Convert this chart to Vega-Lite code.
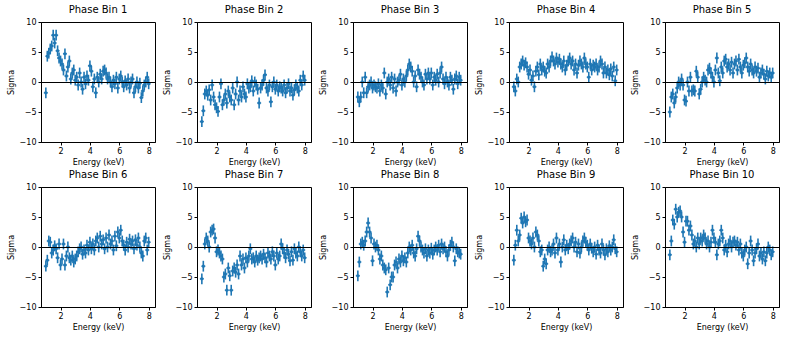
{
"$schema": "https://vega.github.io/schema/vega-lite/v6.json",
"background": "white",
"padding": {"left": 6, "top": 4, "right": 5, "bottom": 5},
"config": {"font": "DejaVu Sans", "view": {"stroke": "black", "strokeWidth": 1}, "axis": {"labelOverlap": false, "labelBound": false, "labelFlush": false, "grid": false}},
"data": {"values": [
{"p":1,"e":1.0,"s":-1.8,"u":0.9},{"p":1,"e":1.1,"s":4.3,"u":0.9},{"p":1,"e":1.2,"s":4.8,"u":0.9},{"p":1,"e":1.3,"s":5.5,"u":0.9},{"p":1,"e":1.4,"s":6.0,"u":0.9},{"p":1,"e":1.5,"s":7.8,"u":0.9},{"p":1,"e":1.6,"s":6.5,"u":0.9},{"p":1,"e":1.7,"s":7.8,"u":0.9},{"p":1,"e":1.8,"s":5.2,"u":0.9},{"p":1,"e":1.9,"s":4.0,"u":0.9},
{"p":1,"e":2.0,"s":3.5,"u":0.9},{"p":1,"e":2.1,"s":3.0,"u":0.9},{"p":1,"e":2.2,"s":2.0,"u":0.9},{"p":1,"e":2.3,"s":4.7,"u":0.9},{"p":1,"e":2.4,"s":1.0,"u":0.9},{"p":1,"e":2.5,"s":2.5,"u":0.9},{"p":1,"e":2.6,"s":3.5,"u":0.9},{"p":1,"e":2.7,"s":0.5,"u":0.9},{"p":1,"e":2.8,"s":1.5,"u":0.9},{"p":1,"e":2.9,"s":2.0,"u":0.9},
{"p":1,"e":3.0,"s":0.3,"u":0.9},{"p":1,"e":3.1,"s":0.8,"u":0.9},{"p":1,"e":3.2,"s":-0.5,"u":0.9},{"p":1,"e":3.3,"s":1.5,"u":0.9},{"p":1,"e":3.4,"s":0.0,"u":0.9},{"p":1,"e":3.5,"s":-1.2,"u":0.9},{"p":1,"e":3.6,"s":0.8,"u":0.9},{"p":1,"e":3.7,"s":-0.3,"u":0.9},{"p":1,"e":3.8,"s":1.0,"u":0.9},{"p":1,"e":3.9,"s":0.3,"u":0.9},
{"p":1,"e":4.0,"s":2.7,"u":0.9},{"p":1,"e":4.1,"s":1.8,"u":0.9},{"p":1,"e":4.2,"s":-0.8,"u":0.9},{"p":1,"e":4.3,"s":0.5,"u":0.9},{"p":1,"e":4.4,"s":-1.8,"u":0.9},{"p":1,"e":4.5,"s":0.8,"u":0.9},{"p":1,"e":4.6,"s":0.0,"u":0.9},{"p":1,"e":4.7,"s":1.3,"u":0.9},{"p":1,"e":4.8,"s":0.5,"u":0.9},{"p":1,"e":4.9,"s":1.8,"u":0.9},
{"p":1,"e":5.0,"s":2.0,"u":0.9},{"p":1,"e":5.1,"s":1.5,"u":0.9},{"p":1,"e":5.2,"s":0.5,"u":0.9},{"p":1,"e":5.3,"s":0.8,"u":0.9},{"p":1,"e":5.4,"s":0.0,"u":0.9},{"p":1,"e":5.5,"s":-0.8,"u":0.9},{"p":1,"e":5.6,"s":0.3,"u":0.9},{"p":1,"e":5.7,"s":-0.3,"u":0.9},{"p":1,"e":5.8,"s":0.8,"u":0.9},{"p":1,"e":5.9,"s":-1.0,"u":0.9},
{"p":1,"e":6.0,"s":0.5,"u":0.9},{"p":1,"e":6.1,"s":1.0,"u":0.9},{"p":1,"e":6.2,"s":0.0,"u":0.9},{"p":1,"e":6.3,"s":-0.8,"u":0.9},{"p":1,"e":6.4,"s":0.2,"u":0.9},{"p":1,"e":6.5,"s":-0.5,"u":0.9},{"p":1,"e":6.6,"s":0.5,"u":0.9},{"p":1,"e":6.7,"s":-1.0,"u":0.9},{"p":1,"e":6.8,"s":0.0,"u":0.9},{"p":1,"e":6.9,"s":0.5,"u":0.9},
{"p":1,"e":7.0,"s":-1.8,"u":0.9},{"p":1,"e":7.1,"s":-0.8,"u":0.9},{"p":1,"e":7.2,"s":0.0,"u":0.9},{"p":1,"e":7.3,"s":-1.0,"u":0.9},{"p":1,"e":7.4,"s":-0.2,"u":0.9},{"p":1,"e":7.5,"s":-2.6,"u":0.9},{"p":1,"e":7.6,"s":-1.5,"u":0.9},{"p":1,"e":7.7,"s":-0.5,"u":0.9},{"p":1,"e":7.8,"s":0.0,"u":0.9},{"p":1,"e":7.9,"s":0.8,"u":0.9},{"p":1,"e":8.0,"s":-0.3,"u":0.9},
{"p":2,"e":1.0,"s":-6.6,"u":0.9},{"p":2,"e":1.1,"s":-4.8,"u":0.9},{"p":2,"e":1.2,"s":-2.0,"u":0.9},{"p":2,"e":1.3,"s":-1.5,"u":0.9},{"p":2,"e":1.4,"s":-2.2,"u":0.9},{"p":2,"e":1.5,"s":-1.3,"u":0.9},{"p":2,"e":1.6,"s":-3.0,"u":0.9},{"p":2,"e":1.7,"s":-0.5,"u":0.9},{"p":2,"e":1.8,"s":-2.5,"u":0.9},{"p":2,"e":1.9,"s":-3.8,"u":0.9},
{"p":2,"e":2.0,"s":-4.3,"u":0.9},{"p":2,"e":2.1,"s":-4.9,"u":0.9},{"p":2,"e":2.2,"s":-2.5,"u":0.9},{"p":2,"e":2.3,"s":-0.3,"u":0.9},{"p":2,"e":2.4,"s":-3.8,"u":0.9},{"p":2,"e":2.5,"s":-3.0,"u":0.9},{"p":2,"e":2.6,"s":-2.0,"u":0.9},{"p":2,"e":2.7,"s":-3.5,"u":0.9},{"p":2,"e":2.8,"s":-1.5,"u":0.9},{"p":2,"e":2.9,"s":-2.5,"u":0.9},
{"p":2,"e":3.0,"s":-3.0,"u":0.9},{"p":2,"e":3.1,"s":-1.0,"u":0.9},{"p":2,"e":3.2,"s":-3.8,"u":0.9},{"p":2,"e":3.3,"s":-2.0,"u":0.9},{"p":2,"e":3.4,"s":0.0,"u":0.9},{"p":2,"e":3.5,"s":-3.0,"u":0.9},{"p":2,"e":3.6,"s":-1.5,"u":0.9},{"p":2,"e":3.7,"s":-2.5,"u":0.9},{"p":2,"e":3.8,"s":-0.8,"u":0.9},{"p":2,"e":3.9,"s":-2.0,"u":0.9},
{"p":2,"e":4.0,"s":-2.5,"u":0.9},{"p":2,"e":4.1,"s":-0.3,"u":0.9},{"p":2,"e":4.2,"s":-1.0,"u":0.9},{"p":2,"e":4.3,"s":-0.8,"u":0.9},{"p":2,"e":4.4,"s":0.2,"u":0.9},{"p":2,"e":4.5,"s":-1.5,"u":0.9},{"p":2,"e":4.6,"s":0.0,"u":0.9},{"p":2,"e":4.7,"s":-0.5,"u":0.9},{"p":2,"e":4.8,"s":-1.2,"u":0.9},{"p":2,"e":4.9,"s":-3.5,"u":0.9},
{"p":2,"e":5.0,"s":-1.0,"u":0.9},{"p":2,"e":5.1,"s":-0.5,"u":0.9},{"p":2,"e":5.2,"s":0.3,"u":0.9},{"p":2,"e":5.3,"s":1.2,"u":0.9},{"p":2,"e":5.4,"s":-1.0,"u":0.9},{"p":2,"e":5.5,"s":-1.5,"u":0.9},{"p":2,"e":5.6,"s":-0.5,"u":0.9},{"p":2,"e":5.7,"s":-3.3,"u":0.9},{"p":2,"e":5.8,"s":-0.8,"u":0.9},{"p":2,"e":5.9,"s":0.0,"u":0.9},
{"p":2,"e":6.0,"s":-1.2,"u":0.9},{"p":2,"e":6.1,"s":-0.5,"u":0.9},{"p":2,"e":6.2,"s":-1.5,"u":0.9},{"p":2,"e":6.3,"s":-0.8,"u":0.9},{"p":2,"e":6.4,"s":-1.0,"u":0.9},{"p":2,"e":6.5,"s":-1.5,"u":0.9},{"p":2,"e":6.6,"s":-0.5,"u":0.9},{"p":2,"e":6.7,"s":-1.8,"u":0.9},{"p":2,"e":6.8,"s":-1.0,"u":0.9},{"p":2,"e":6.9,"s":-0.3,"u":0.9},
{"p":2,"e":7.0,"s":-1.5,"u":0.9},{"p":2,"e":7.1,"s":-1.0,"u":0.9},{"p":2,"e":7.2,"s":-2.2,"u":0.9},{"p":2,"e":7.3,"s":-1.3,"u":0.9},{"p":2,"e":7.4,"s":-0.5,"u":0.9},{"p":2,"e":7.5,"s":-1.0,"u":0.9},{"p":2,"e":7.6,"s":-1.5,"u":0.9},{"p":2,"e":7.7,"s":0.3,"u":0.9},{"p":2,"e":7.8,"s":-0.5,"u":0.9},{"p":2,"e":7.9,"s":1.0,"u":0.9},{"p":2,"e":8.0,"s":0.3,"u":0.9},
{"p":3,"e":1.0,"s":-2.5,"u":0.9},{"p":3,"e":1.1,"s":-3.3,"u":0.9},{"p":3,"e":1.2,"s":-2.5,"u":0.9},{"p":3,"e":1.3,"s":0.0,"u":0.9},{"p":3,"e":1.4,"s":-1.8,"u":0.9},{"p":3,"e":1.5,"s":0.8,"u":0.9},{"p":3,"e":1.6,"s":-1.8,"u":0.9},{"p":3,"e":1.7,"s":-0.8,"u":0.9},{"p":3,"e":1.8,"s":-0.5,"u":0.9},{"p":3,"e":1.9,"s":0.0,"u":0.9},
{"p":3,"e":2.0,"s":-1.0,"u":0.9},{"p":3,"e":2.1,"s":-0.5,"u":0.9},{"p":3,"e":2.2,"s":-0.8,"u":0.9},{"p":3,"e":2.3,"s":-1.0,"u":0.9},{"p":3,"e":2.4,"s":-0.3,"u":0.9},{"p":3,"e":2.5,"s":-1.5,"u":0.9},{"p":3,"e":2.6,"s":-0.5,"u":0.9},{"p":3,"e":2.7,"s":-1.0,"u":0.9},{"p":3,"e":2.8,"s":1.5,"u":0.9},{"p":3,"e":2.9,"s":-2.0,"u":0.9},
{"p":3,"e":3.0,"s":0.0,"u":0.9},{"p":3,"e":3.1,"s":0.5,"u":0.9},{"p":3,"e":3.2,"s":-0.5,"u":0.9},{"p":3,"e":3.3,"s":0.8,"u":0.9},{"p":3,"e":3.4,"s":-1.0,"u":0.9},{"p":3,"e":3.5,"s":0.5,"u":0.9},{"p":3,"e":3.6,"s":-1.5,"u":0.9},{"p":3,"e":3.7,"s":0.0,"u":0.9},{"p":3,"e":3.8,"s":0.3,"u":0.9},{"p":3,"e":3.9,"s":1.3,"u":0.9},
{"p":3,"e":4.0,"s":-0.5,"u":0.9},{"p":3,"e":4.1,"s":0.5,"u":0.9},{"p":3,"e":4.2,"s":0.0,"u":0.9},{"p":3,"e":4.3,"s":1.0,"u":0.9},{"p":3,"e":4.4,"s":2.0,"u":0.9},{"p":3,"e":4.5,"s":3.0,"u":0.9},{"p":3,"e":4.6,"s":2.5,"u":0.9},{"p":3,"e":4.7,"s":1.8,"u":0.9},{"p":3,"e":4.8,"s":0.0,"u":0.9},{"p":3,"e":4.9,"s":1.0,"u":0.9},
{"p":3,"e":5.0,"s":-0.8,"u":0.9},{"p":3,"e":5.1,"s":2.0,"u":0.9},{"p":3,"e":5.2,"s":1.3,"u":0.9},{"p":3,"e":5.3,"s":0.8,"u":0.9},{"p":3,"e":5.4,"s":0.0,"u":0.9},{"p":3,"e":5.5,"s":-0.5,"u":0.9},{"p":3,"e":5.6,"s":1.3,"u":0.9},{"p":3,"e":5.7,"s":0.5,"u":0.9},{"p":3,"e":5.8,"s":1.5,"u":0.9},{"p":3,"e":5.9,"s":0.5,"u":0.9},
{"p":3,"e":6.0,"s":1.5,"u":0.9},{"p":3,"e":6.1,"s":-0.5,"u":0.9},{"p":3,"e":6.2,"s":0.8,"u":0.9},{"p":3,"e":6.3,"s":0.3,"u":0.9},{"p":3,"e":6.4,"s":1.3,"u":0.9},{"p":3,"e":6.5,"s":0.0,"u":0.9},{"p":3,"e":6.6,"s":1.5,"u":0.9},{"p":3,"e":6.7,"s":2.5,"u":0.9},{"p":3,"e":6.8,"s":0.5,"u":0.9},{"p":3,"e":6.9,"s":-0.3,"u":0.9},
{"p":3,"e":7.0,"s":0.8,"u":0.9},{"p":3,"e":7.1,"s":0.0,"u":0.9},{"p":3,"e":7.2,"s":-0.5,"u":0.9},{"p":3,"e":7.3,"s":0.8,"u":0.9},{"p":3,"e":7.4,"s":0.3,"u":0.9},{"p":3,"e":7.5,"s":-1.2,"u":0.9},{"p":3,"e":7.6,"s":0.5,"u":0.9},{"p":3,"e":7.7,"s":1.0,"u":0.9},{"p":3,"e":7.8,"s":-0.3,"u":0.9},{"p":3,"e":7.9,"s":0.8,"u":0.9},{"p":3,"e":8.0,"s":0.3,"u":0.9},
{"p":4,"e":1.0,"s":-0.8,"u":0.9},{"p":4,"e":1.1,"s":-1.5,"u":0.9},{"p":4,"e":1.2,"s":0.5,"u":0.9},{"p":4,"e":1.3,"s":0.0,"u":0.9},{"p":4,"e":1.4,"s":2.5,"u":0.9},{"p":4,"e":1.5,"s":3.0,"u":0.9},{"p":4,"e":1.6,"s":3.5,"u":0.9},{"p":4,"e":1.7,"s":2.8,"u":0.9},{"p":4,"e":1.8,"s":3.2,"u":0.9},{"p":4,"e":1.9,"s":2.5,"u":0.9},
{"p":4,"e":2.0,"s":1.3,"u":0.9},{"p":4,"e":2.1,"s":2.0,"u":0.9},{"p":4,"e":2.2,"s":0.3,"u":0.9},{"p":4,"e":2.3,"s":1.0,"u":0.9},{"p":4,"e":2.4,"s":-0.8,"u":0.9},{"p":4,"e":2.5,"s":1.8,"u":0.9},{"p":4,"e":2.6,"s":2.5,"u":0.9},{"p":4,"e":2.7,"s":1.2,"u":0.9},{"p":4,"e":2.8,"s":3.0,"u":0.9},{"p":4,"e":2.9,"s":2.0,"u":0.9},
{"p":4,"e":3.0,"s":2.5,"u":0.9},{"p":4,"e":3.1,"s":1.8,"u":0.9},{"p":4,"e":3.2,"s":1.5,"u":0.9},{"p":4,"e":3.3,"s":3.0,"u":0.9},{"p":4,"e":3.4,"s":2.5,"u":0.9},{"p":4,"e":3.5,"s":3.5,"u":0.9},{"p":4,"e":3.6,"s":4.2,"u":0.9},{"p":4,"e":3.7,"s":3.5,"u":0.9},{"p":4,"e":3.8,"s":3.0,"u":0.9},{"p":4,"e":3.9,"s":4.0,"u":0.9},
{"p":4,"e":4.0,"s":3.3,"u":0.9},{"p":4,"e":4.1,"s":3.8,"u":0.9},{"p":4,"e":4.2,"s":3.0,"u":0.9},{"p":4,"e":4.3,"s":2.5,"u":0.9},{"p":4,"e":4.4,"s":3.5,"u":0.9},{"p":4,"e":4.5,"s":2.0,"u":0.9},{"p":4,"e":4.6,"s":2.8,"u":0.9},{"p":4,"e":4.7,"s":3.5,"u":0.9},{"p":4,"e":4.8,"s":4.0,"u":0.9},{"p":4,"e":4.9,"s":3.0,"u":0.9},
{"p":4,"e":5.0,"s":3.5,"u":0.9},{"p":4,"e":5.1,"s":2.0,"u":0.9},{"p":4,"e":5.2,"s":3.0,"u":0.9},{"p":4,"e":5.3,"s":1.5,"u":0.9},{"p":4,"e":5.4,"s":2.8,"u":0.9},{"p":4,"e":5.5,"s":3.5,"u":0.9},{"p":4,"e":5.6,"s":3.0,"u":0.9},{"p":4,"e":5.7,"s":2.5,"u":0.9},{"p":4,"e":5.8,"s":4.0,"u":0.9},{"p":4,"e":5.9,"s":3.0,"u":0.9},
{"p":4,"e":6.0,"s":2.5,"u":0.9},{"p":4,"e":6.1,"s":0.8,"u":0.9},{"p":4,"e":6.2,"s":3.0,"u":0.9},{"p":4,"e":6.3,"s":2.0,"u":0.9},{"p":4,"e":6.4,"s":2.8,"u":0.9},{"p":4,"e":6.5,"s":2.5,"u":0.9},{"p":4,"e":6.6,"s":3.0,"u":0.9},{"p":4,"e":6.7,"s":2.0,"u":0.9},{"p":4,"e":6.8,"s":2.5,"u":0.9},{"p":4,"e":6.9,"s":3.5,"u":0.9},
{"p":4,"e":7.0,"s":3.0,"u":0.9},{"p":4,"e":7.1,"s":1.5,"u":0.9},{"p":4,"e":7.2,"s":2.5,"u":0.9},{"p":4,"e":7.3,"s":1.5,"u":0.9},{"p":4,"e":7.4,"s":2.0,"u":0.9},{"p":4,"e":7.5,"s":1.2,"u":0.9},{"p":4,"e":7.6,"s":2.2,"u":0.9},{"p":4,"e":7.7,"s":1.0,"u":0.9},{"p":4,"e":7.8,"s":2.5,"u":0.9},{"p":4,"e":7.9,"s":0.2,"u":0.9},{"p":4,"e":8.0,"s":2.0,"u":0.9},
{"p":5,"e":1.0,"s":-5.0,"u":0.9},{"p":5,"e":1.1,"s":-2.5,"u":0.9},{"p":5,"e":1.2,"s":-2.0,"u":0.9},{"p":5,"e":1.3,"s":-3.5,"u":0.9},{"p":5,"e":1.4,"s":-2.5,"u":0.9},{"p":5,"e":1.5,"s":-1.0,"u":0.9},{"p":5,"e":1.6,"s":0.0,"u":0.9},{"p":5,"e":1.7,"s":-0.5,"u":0.9},{"p":5,"e":1.8,"s":0.5,"u":0.9},{"p":5,"e":1.9,"s":-0.5,"u":0.9},
{"p":5,"e":2.0,"s":-3.0,"u":0.9},{"p":5,"e":2.1,"s":-3.2,"u":0.9},{"p":5,"e":2.2,"s":0.0,"u":0.9},{"p":5,"e":2.3,"s":-1.5,"u":0.9},{"p":5,"e":2.4,"s":0.8,"u":0.9},{"p":5,"e":2.5,"s":-1.5,"u":0.9},{"p":5,"e":2.6,"s":-1.3,"u":0.9},{"p":5,"e":2.7,"s":-1.5,"u":0.9},{"p":5,"e":2.8,"s":1.8,"u":0.9},{"p":5,"e":2.9,"s":0.8,"u":0.9},
{"p":5,"e":3.0,"s":-2.0,"u":0.9},{"p":5,"e":3.1,"s":-1.2,"u":0.9},{"p":5,"e":3.2,"s":0.0,"u":0.9},{"p":5,"e":3.3,"s":0.8,"u":0.9},{"p":5,"e":3.4,"s":0.3,"u":0.9},{"p":5,"e":3.5,"s":0.0,"u":0.9},{"p":5,"e":3.6,"s":2.0,"u":0.9},{"p":5,"e":3.7,"s":2.3,"u":0.9},{"p":5,"e":3.8,"s":1.5,"u":0.9},{"p":5,"e":3.9,"s":0.8,"u":0.9},
{"p":5,"e":4.0,"s":0.0,"u":0.9},{"p":5,"e":4.1,"s":2.0,"u":0.9},{"p":5,"e":4.2,"s":4.0,"u":0.9},{"p":5,"e":4.3,"s":1.5,"u":0.9},{"p":5,"e":4.4,"s":0.2,"u":0.9},{"p":5,"e":4.5,"s":2.5,"u":0.9},{"p":5,"e":4.6,"s":1.5,"u":0.9},{"p":5,"e":4.7,"s":3.5,"u":0.9},{"p":5,"e":4.8,"s":3.8,"u":0.9},{"p":5,"e":4.9,"s":2.5,"u":0.9},
{"p":5,"e":5.0,"s":3.0,"u":0.9},{"p":5,"e":5.1,"s":2.0,"u":0.9},{"p":5,"e":5.2,"s":3.3,"u":0.9},{"p":5,"e":5.3,"s":1.5,"u":0.9},{"p":5,"e":5.4,"s":3.0,"u":0.9},{"p":5,"e":5.5,"s":3.5,"u":0.9},{"p":5,"e":5.6,"s":2.0,"u":0.9},{"p":5,"e":5.7,"s":3.8,"u":0.9},{"p":5,"e":5.8,"s":2.5,"u":0.9},{"p":5,"e":5.9,"s":1.5,"u":0.9},
{"p":5,"e":6.0,"s":2.8,"u":0.9},{"p":5,"e":6.1,"s":3.2,"u":0.9},{"p":5,"e":6.2,"s":4.0,"u":0.9},{"p":5,"e":6.3,"s":2.5,"u":0.9},{"p":5,"e":6.4,"s":1.8,"u":0.9},{"p":5,"e":6.5,"s":3.0,"u":0.9},{"p":5,"e":6.6,"s":2.0,"u":0.9},{"p":5,"e":6.7,"s":1.5,"u":0.9},{"p":5,"e":6.8,"s":2.5,"u":0.9},{"p":5,"e":6.9,"s":1.8,"u":0.9},
{"p":5,"e":7.0,"s":2.3,"u":0.9},{"p":5,"e":7.1,"s":0.8,"u":0.9},{"p":5,"e":7.2,"s":1.5,"u":0.9},{"p":5,"e":7.3,"s":2.0,"u":0.9},{"p":5,"e":7.4,"s":1.3,"u":0.9},{"p":5,"e":7.5,"s":0.5,"u":0.9},{"p":5,"e":7.6,"s":1.8,"u":0.9},{"p":5,"e":7.7,"s":1.0,"u":0.9},{"p":5,"e":7.8,"s":1.5,"u":0.9},{"p":5,"e":7.9,"s":0.8,"u":0.9},{"p":5,"e":8.0,"s":1.5,"u":0.9},
{"p":6,"e":1.0,"s":-3.2,"u":0.9},{"p":6,"e":1.1,"s":-2.2,"u":0.9},{"p":6,"e":1.2,"s":1.0,"u":0.9},{"p":6,"e":1.3,"s":0.8,"u":0.9},{"p":6,"e":1.4,"s":-1.0,"u":0.9},{"p":6,"e":1.5,"s":-0.5,"u":0.9},{"p":6,"e":1.6,"s":0.2,"u":0.9},{"p":6,"e":1.7,"s":-0.3,"u":0.9},{"p":6,"e":1.8,"s":-1.8,"u":0.9},{"p":6,"e":1.9,"s":0.5,"u":0.9},
{"p":6,"e":2.0,"s":-3.0,"u":0.9},{"p":6,"e":2.1,"s":-2.0,"u":0.9},{"p":6,"e":2.2,"s":0.5,"u":0.9},{"p":6,"e":2.3,"s":-3.0,"u":0.9},{"p":6,"e":2.4,"s":-1.5,"u":0.9},{"p":6,"e":2.5,"s":0.0,"u":0.9},{"p":6,"e":2.6,"s":-1.8,"u":0.9},{"p":6,"e":2.7,"s":-2.2,"u":0.9},{"p":6,"e":2.8,"s":-1.5,"u":0.9},{"p":6,"e":2.9,"s":-2.5,"u":0.9},
{"p":6,"e":3.0,"s":-2.0,"u":0.9},{"p":6,"e":3.1,"s":-1.5,"u":0.9},{"p":6,"e":3.2,"s":-0.8,"u":0.9},{"p":6,"e":3.3,"s":-0.3,"u":0.9},{"p":6,"e":3.4,"s":0.0,"u":0.9},{"p":6,"e":3.5,"s":-1.2,"u":0.9},{"p":6,"e":3.6,"s":-0.5,"u":0.9},{"p":6,"e":3.7,"s":-1.0,"u":0.9},{"p":6,"e":3.8,"s":0.3,"u":0.9},{"p":6,"e":3.9,"s":-0.5,"u":0.9},
{"p":6,"e":4.0,"s":0.8,"u":0.9},{"p":6,"e":4.1,"s":-0.3,"u":0.9},{"p":6,"e":4.2,"s":0.5,"u":0.9},{"p":6,"e":4.3,"s":-0.5,"u":0.9},{"p":6,"e":4.4,"s":1.0,"u":0.9},{"p":6,"e":4.5,"s":1.5,"u":0.9},{"p":6,"e":4.6,"s":0.0,"u":0.9},{"p":6,"e":4.7,"s":1.8,"u":0.9},{"p":6,"e":4.8,"s":0.5,"u":0.9},{"p":6,"e":4.9,"s":1.2,"u":0.9},
{"p":6,"e":5.0,"s":-0.3,"u":0.9},{"p":6,"e":5.1,"s":1.5,"u":0.9},{"p":6,"e":5.2,"s":0.0,"u":0.9},{"p":6,"e":5.3,"s":2.0,"u":0.9},{"p":6,"e":5.4,"s":0.5,"u":0.9},{"p":6,"e":5.5,"s":1.0,"u":0.9},{"p":6,"e":5.6,"s":-0.5,"u":0.9},{"p":6,"e":5.7,"s":1.8,"u":0.9},{"p":6,"e":5.8,"s":0.2,"u":0.9},{"p":6,"e":5.9,"s":2.5,"u":0.9},
{"p":6,"e":6.0,"s":1.5,"u":0.9},{"p":6,"e":6.1,"s":2.8,"u":0.9},{"p":6,"e":6.2,"s":1.0,"u":0.9},{"p":6,"e":6.3,"s":0.3,"u":0.9},{"p":6,"e":6.4,"s":-0.5,"u":0.9},{"p":6,"e":6.5,"s":0.8,"u":0.9},{"p":6,"e":6.6,"s":0.0,"u":0.9},{"p":6,"e":6.7,"s":1.3,"u":0.9},{"p":6,"e":6.8,"s":0.5,"u":0.9},{"p":6,"e":6.9,"s":1.0,"u":0.9},
{"p":6,"e":7.0,"s":-0.3,"u":0.9},{"p":6,"e":7.1,"s":1.2,"u":0.9},{"p":6,"e":7.2,"s":0.3,"u":0.9},{"p":6,"e":7.3,"s":1.5,"u":0.9},{"p":6,"e":7.4,"s":0.0,"u":0.9},{"p":6,"e":7.5,"s":-1.0,"u":0.9},{"p":6,"e":7.6,"s":-1.5,"u":0.9},{"p":6,"e":7.7,"s":1.0,"u":0.9},{"p":6,"e":7.8,"s":1.5,"u":0.9},{"p":6,"e":7.9,"s":-0.5,"u":0.9},{"p":6,"e":8.0,"s":0.8,"u":0.9},
{"p":7,"e":1.0,"s":-5.3,"u":0.9},{"p":7,"e":1.1,"s":-3.2,"u":0.9},{"p":7,"e":1.2,"s":0.5,"u":0.9},{"p":7,"e":1.3,"s":1.5,"u":0.9},{"p":7,"e":1.4,"s":1.0,"u":0.9},{"p":7,"e":1.5,"s":0.0,"u":0.9},{"p":7,"e":1.6,"s":2.5,"u":0.9},{"p":7,"e":1.7,"s":2.8,"u":0.9},{"p":7,"e":1.8,"s":3.0,"u":0.9},{"p":7,"e":1.9,"s":1.5,"u":0.9},
{"p":7,"e":2.0,"s":-0.8,"u":0.9},{"p":7,"e":2.1,"s":-0.5,"u":0.9},{"p":7,"e":2.2,"s":-1.0,"u":0.9},{"p":7,"e":2.3,"s":-1.5,"u":0.9},{"p":7,"e":2.4,"s":-2.0,"u":0.9},{"p":7,"e":2.5,"s":-5.0,"u":0.9},{"p":7,"e":2.6,"s":-4.5,"u":0.9},{"p":7,"e":2.7,"s":-7.2,"u":0.9},{"p":7,"e":2.8,"s":-3.5,"u":0.9},{"p":7,"e":2.9,"s":-4.8,"u":0.9},
{"p":7,"e":3.0,"s":-7.2,"u":0.9},{"p":7,"e":3.1,"s":-4.0,"u":0.9},{"p":7,"e":3.2,"s":-3.5,"u":0.9},{"p":7,"e":3.3,"s":-4.2,"u":0.9},{"p":7,"e":3.4,"s":-3.0,"u":0.9},{"p":7,"e":3.5,"s":-4.5,"u":0.9},{"p":7,"e":3.6,"s":-1.5,"u":0.9},{"p":7,"e":3.7,"s":-3.0,"u":0.9},{"p":7,"e":3.8,"s":-2.0,"u":0.9},{"p":7,"e":3.9,"s":-3.5,"u":0.9},
{"p":7,"e":4.0,"s":-1.8,"u":0.9},{"p":7,"e":4.1,"s":-2.5,"u":0.9},{"p":7,"e":4.2,"s":-1.5,"u":0.9},{"p":7,"e":4.3,"s":-0.3,"u":0.9},{"p":7,"e":4.4,"s":-2.0,"u":0.9},{"p":7,"e":4.5,"s":-1.8,"u":0.9},{"p":7,"e":4.6,"s":-2.5,"u":0.9},{"p":7,"e":4.7,"s":-1.5,"u":0.9},{"p":7,"e":4.8,"s":-2.2,"u":0.9},{"p":7,"e":4.9,"s":-1.8,"u":0.9},
{"p":7,"e":5.0,"s":-1.5,"u":0.9},{"p":7,"e":5.1,"s":-2.0,"u":0.9},{"p":7,"e":5.2,"s":-1.2,"u":0.9},{"p":7,"e":5.3,"s":-1.8,"u":0.9},{"p":7,"e":5.4,"s":-2.5,"u":0.9},{"p":7,"e":5.5,"s":-1.0,"u":0.9},{"p":7,"e":5.6,"s":-1.5,"u":0.9},{"p":7,"e":5.7,"s":-2.0,"u":0.9},{"p":7,"e":5.8,"s":-0.8,"u":0.9},{"p":7,"e":5.9,"s":-1.5,"u":0.9},
{"p":7,"e":6.0,"s":-3.0,"u":0.9},{"p":7,"e":6.1,"s":-1.0,"u":0.9},{"p":7,"e":6.2,"s":-2.0,"u":0.9},{"p":7,"e":6.3,"s":-1.5,"u":0.9},{"p":7,"e":6.4,"s":0.5,"u":0.9},{"p":7,"e":6.5,"s":-0.3,"u":0.9},{"p":7,"e":6.6,"s":-1.0,"u":0.9},{"p":7,"e":6.7,"s":-1.8,"u":0.9},{"p":7,"e":6.8,"s":-0.5,"u":0.9},{"p":7,"e":6.9,"s":-1.2,"u":0.9},
{"p":7,"e":7.0,"s":-2.3,"u":0.9},{"p":7,"e":7.1,"s":-0.8,"u":0.9},{"p":7,"e":7.2,"s":-2.2,"u":0.9},{"p":7,"e":7.3,"s":-0.3,"u":0.9},{"p":7,"e":7.4,"s":-1.0,"u":0.9},{"p":7,"e":7.5,"s":-1.5,"u":0.9},{"p":7,"e":7.6,"s":0.0,"u":0.9},{"p":7,"e":7.7,"s":-0.8,"u":0.9},{"p":7,"e":7.8,"s":-1.5,"u":0.9},{"p":7,"e":7.9,"s":-0.5,"u":0.9},{"p":7,"e":8.0,"s":-1.8,"u":0.9},
{"p":8,"e":1.0,"s":-4.8,"u":0.9},{"p":8,"e":1.1,"s":-2.5,"u":0.9},{"p":8,"e":1.2,"s":0.5,"u":0.9},{"p":8,"e":1.3,"s":0.8,"u":0.9},{"p":8,"e":1.4,"s":0.3,"u":0.9},{"p":8,"e":1.5,"s":1.0,"u":0.9},{"p":8,"e":1.6,"s":2.5,"u":0.9},{"p":8,"e":1.7,"s":4.0,"u":0.9},{"p":8,"e":1.8,"s":2.5,"u":0.9},{"p":8,"e":1.9,"s":1.5,"u":0.9},
{"p":8,"e":2.0,"s":-2.3,"u":0.9},{"p":8,"e":2.1,"s":0.5,"u":0.9},{"p":8,"e":2.2,"s":0.0,"u":0.9},{"p":8,"e":2.3,"s":0.3,"u":0.9},{"p":8,"e":2.4,"s":-0.5,"u":0.9},{"p":8,"e":2.5,"s":-2.0,"u":0.9},{"p":8,"e":2.6,"s":-1.5,"u":0.9},{"p":8,"e":2.7,"s":-3.0,"u":0.9},{"p":8,"e":2.8,"s":-3.5,"u":0.9},{"p":8,"e":2.9,"s":-3.8,"u":0.9},
{"p":8,"e":3.0,"s":-7.5,"u":0.9},{"p":8,"e":3.1,"s":-3.5,"u":0.9},{"p":8,"e":3.2,"s":-6.3,"u":0.9},{"p":8,"e":3.3,"s":-5.0,"u":0.9},{"p":8,"e":3.4,"s":-5.0,"u":0.9},{"p":8,"e":3.5,"s":-3.0,"u":0.9},{"p":8,"e":3.6,"s":-2.5,"u":0.9},{"p":8,"e":3.7,"s":-3.5,"u":0.9},{"p":8,"e":3.8,"s":-2.0,"u":0.9},{"p":8,"e":3.9,"s":-2.5,"u":0.9},
{"p":8,"e":4.0,"s":-1.5,"u":0.9},{"p":8,"e":4.1,"s":-2.3,"u":0.9},{"p":8,"e":4.2,"s":-1.8,"u":0.9},{"p":8,"e":4.3,"s":-2.5,"u":0.9},{"p":8,"e":4.4,"s":-1.0,"u":0.9},{"p":8,"e":4.5,"s":0.0,"u":0.9},{"p":8,"e":4.6,"s":-0.5,"u":0.9},{"p":8,"e":4.7,"s":0.3,"u":0.9},{"p":8,"e":4.8,"s":-1.0,"u":0.9},{"p":8,"e":4.9,"s":-1.5,"u":0.9},
{"p":8,"e":5.0,"s":-0.3,"u":0.9},{"p":8,"e":5.1,"s":1.8,"u":0.9},{"p":8,"e":5.2,"s":1.0,"u":0.9},{"p":8,"e":5.3,"s":0.0,"u":0.9},{"p":8,"e":5.4,"s":-0.5,"u":0.9},{"p":8,"e":5.5,"s":-1.0,"u":0.9},{"p":8,"e":5.6,"s":-0.3,"u":0.9},{"p":8,"e":5.7,"s":-1.5,"u":0.9},{"p":8,"e":5.8,"s":-0.5,"u":0.9},{"p":8,"e":5.9,"s":-1.0,"u":0.9},
{"p":8,"e":6.0,"s":-0.2,"u":0.9},{"p":8,"e":6.1,"s":-1.2,"u":0.9},{"p":8,"e":6.2,"s":-0.5,"u":0.9},{"p":8,"e":6.3,"s":0.0,"u":0.9},{"p":8,"e":6.4,"s":-0.5,"u":0.9},{"p":8,"e":6.5,"s":0.3,"u":0.9},{"p":8,"e":6.6,"s":-0.8,"u":0.9},{"p":8,"e":6.7,"s":0.5,"u":0.9},{"p":8,"e":6.8,"s":-0.3,"u":0.9},{"p":8,"e":6.9,"s":0.0,"u":0.9},
{"p":8,"e":7.0,"s":-0.8,"u":0.9},{"p":8,"e":7.1,"s":-1.5,"u":0.9},{"p":8,"e":7.2,"s":-0.5,"u":0.9},{"p":8,"e":7.3,"s":0.3,"u":0.9},{"p":8,"e":7.4,"s":0.8,"u":0.9},{"p":8,"e":7.5,"s":0.0,"u":0.9},{"p":8,"e":7.6,"s":-2.3,"u":0.9},{"p":8,"e":7.7,"s":-0.3,"u":0.9},{"p":8,"e":7.8,"s":-0.8,"u":0.9},{"p":8,"e":7.9,"s":-1.0,"u":0.9},{"p":8,"e":8.0,"s":-1.2,"u":0.9},
{"p":9,"e":1.0,"s":-2.2,"u":0.9},{"p":9,"e":1.1,"s":0.3,"u":0.9},{"p":9,"e":1.2,"s":2.8,"u":0.9},{"p":9,"e":1.3,"s":1.0,"u":0.9},{"p":9,"e":1.4,"s":2.0,"u":0.9},{"p":9,"e":1.5,"s":4.8,"u":0.9},{"p":9,"e":1.6,"s":4.0,"u":0.9},{"p":9,"e":1.7,"s":5.0,"u":0.9},{"p":9,"e":1.8,"s":4.2,"u":0.9},{"p":9,"e":1.9,"s":4.5,"u":0.9},
{"p":9,"e":2.0,"s":1.5,"u":0.9},{"p":9,"e":2.1,"s":1.0,"u":0.9},{"p":9,"e":2.2,"s":0.5,"u":0.9},{"p":9,"e":2.3,"s":1.5,"u":0.9},{"p":9,"e":2.4,"s":0.0,"u":0.9},{"p":9,"e":2.5,"s":2.5,"u":0.9},{"p":9,"e":2.6,"s":2.0,"u":0.9},{"p":9,"e":2.7,"s":1.0,"u":0.9},{"p":9,"e":2.8,"s":-0.8,"u":0.9},{"p":9,"e":2.9,"s":-0.5,"u":0.9},
{"p":9,"e":3.0,"s":-3.2,"u":0.9},{"p":9,"e":3.1,"s":-2.0,"u":0.9},{"p":9,"e":3.2,"s":-2.8,"u":0.9},{"p":9,"e":3.3,"s":-0.5,"u":0.9},{"p":9,"e":3.4,"s":0.0,"u":0.9},{"p":9,"e":3.5,"s":-0.8,"u":0.9},{"p":9,"e":3.6,"s":-0.5,"u":0.9},{"p":9,"e":3.7,"s":0.5,"u":0.9},{"p":9,"e":3.8,"s":-1.0,"u":0.9},{"p":9,"e":3.9,"s":1.5,"u":0.9},
{"p":9,"e":4.0,"s":-0.5,"u":0.9},{"p":9,"e":4.1,"s":0.5,"u":0.9},{"p":9,"e":4.2,"s":-2.5,"u":0.9},{"p":9,"e":4.3,"s":0.0,"u":0.9},{"p":9,"e":4.4,"s":1.2,"u":0.9},{"p":9,"e":4.5,"s":-0.5,"u":0.9},{"p":9,"e":4.6,"s":0.3,"u":0.9},{"p":9,"e":4.7,"s":-0.3,"u":0.9},{"p":9,"e":4.8,"s":0.5,"u":0.9},{"p":9,"e":4.9,"s":1.0,"u":0.9},
{"p":9,"e":5.0,"s":1.5,"u":0.9},{"p":9,"e":5.1,"s":0.0,"u":0.9},{"p":9,"e":5.2,"s":0.8,"u":0.9},{"p":9,"e":5.3,"s":-0.8,"u":0.9},{"p":9,"e":5.4,"s":0.5,"u":0.9},{"p":9,"e":5.5,"s":-1.0,"u":0.9},{"p":9,"e":5.6,"s":0.0,"u":0.9},{"p":9,"e":5.7,"s":1.0,"u":0.9},{"p":9,"e":5.8,"s":1.5,"u":0.9},{"p":9,"e":5.9,"s":0.8,"u":0.9},
{"p":9,"e":6.0,"s":0.3,"u":0.9},{"p":9,"e":6.1,"s":-0.5,"u":0.9},{"p":9,"e":6.2,"s":0.5,"u":0.9},{"p":9,"e":6.3,"s":-0.2,"u":0.9},{"p":9,"e":6.4,"s":-0.8,"u":0.9},{"p":9,"e":6.5,"s":0.0,"u":0.9},{"p":9,"e":6.6,"s":-1.2,"u":0.9},{"p":9,"e":6.7,"s":0.3,"u":0.9},{"p":9,"e":6.8,"s":-0.5,"u":0.9},{"p":9,"e":6.9,"s":-1.0,"u":0.9},
{"p":9,"e":7.0,"s":0.5,"u":0.9},{"p":9,"e":7.1,"s":-0.5,"u":0.9},{"p":9,"e":7.2,"s":-1.3,"u":0.9},{"p":9,"e":7.3,"s":-0.3,"u":0.9},{"p":9,"e":7.4,"s":-0.8,"u":0.9},{"p":9,"e":7.5,"s":0.2,"u":0.9},{"p":9,"e":7.6,"s":-0.5,"u":0.9},{"p":9,"e":7.7,"s":0.0,"u":0.9},{"p":9,"e":7.8,"s":1.2,"u":0.9},{"p":9,"e":7.9,"s":-0.3,"u":0.9},{"p":9,"e":8.0,"s":-0.8,"u":0.9},
{"p":10,"e":1.0,"s":-1.3,"u":0.9},{"p":10,"e":1.1,"s":1.0,"u":0.9},{"p":10,"e":1.2,"s":4.5,"u":0.9},{"p":10,"e":1.3,"s":3.8,"u":0.9},{"p":10,"e":1.4,"s":6.3,"u":0.9},{"p":10,"e":1.5,"s":5.0,"u":0.9},{"p":10,"e":1.6,"s":5.8,"u":0.9},{"p":10,"e":1.7,"s":6.0,"u":0.9},{"p":10,"e":1.8,"s":5.0,"u":0.9},{"p":10,"e":1.9,"s":2.5,"u":0.9},
{"p":10,"e":2.0,"s":0.8,"u":0.9},{"p":10,"e":2.1,"s":4.3,"u":0.9},{"p":10,"e":2.2,"s":4.3,"u":0.9},{"p":10,"e":2.3,"s":2.8,"u":0.9},{"p":10,"e":2.4,"s":3.5,"u":0.9},{"p":10,"e":2.5,"s":2.0,"u":0.9},{"p":10,"e":2.6,"s":0.5,"u":0.9},{"p":10,"e":2.7,"s":1.0,"u":0.9},{"p":10,"e":2.8,"s":0.0,"u":0.9},{"p":10,"e":2.9,"s":1.5,"u":0.9},
{"p":10,"e":3.0,"s":0.5,"u":0.9},{"p":10,"e":3.1,"s":1.5,"u":0.9},{"p":10,"e":3.2,"s":1.0,"u":0.9},{"p":10,"e":3.3,"s":2.0,"u":0.9},{"p":10,"e":3.4,"s":1.5,"u":0.9},{"p":10,"e":3.5,"s":0.5,"u":0.9},{"p":10,"e":3.6,"s":1.0,"u":0.9},{"p":10,"e":3.7,"s":0.0,"u":0.9},{"p":10,"e":3.8,"s":0.8,"u":0.9},{"p":10,"e":3.9,"s":2.8,"u":0.9},
{"p":10,"e":4.0,"s":1.5,"u":0.9},{"p":10,"e":4.1,"s":0.8,"u":0.9},{"p":10,"e":4.2,"s":-1.3,"u":0.9},{"p":10,"e":4.3,"s":0.5,"u":0.9},{"p":10,"e":4.4,"s":1.0,"u":0.9},{"p":10,"e":4.5,"s":2.8,"u":0.9},{"p":10,"e":4.6,"s":1.5,"u":0.9},{"p":10,"e":4.7,"s":-0.5,"u":0.9},{"p":10,"e":4.8,"s":0.3,"u":0.9},{"p":10,"e":4.9,"s":-0.8,"u":0.9},
{"p":10,"e":5.0,"s":0.5,"u":0.9},{"p":10,"e":5.1,"s":1.0,"u":0.9},{"p":10,"e":5.2,"s":0.0,"u":0.9},{"p":10,"e":5.3,"s":0.8,"u":0.9},{"p":10,"e":5.4,"s":1.0,"u":0.9},{"p":10,"e":5.5,"s":0.3,"u":0.9},{"p":10,"e":5.6,"s":0.8,"u":0.9},{"p":10,"e":5.7,"s":-0.5,"u":0.9},{"p":10,"e":5.8,"s":0.5,"u":0.9},{"p":10,"e":5.9,"s":-1.0,"u":0.9},
{"p":10,"e":6.0,"s":-1.5,"u":0.9},{"p":10,"e":6.1,"s":-0.5,"u":0.9},{"p":10,"e":6.2,"s":0.0,"u":0.9},{"p":10,"e":6.3,"s":-2.8,"u":0.9},{"p":10,"e":6.4,"s":-1.0,"u":0.9},{"p":10,"e":6.5,"s":1.0,"u":0.9},{"p":10,"e":6.6,"s":-0.5,"u":0.9},{"p":10,"e":6.7,"s":-2.3,"u":0.9},{"p":10,"e":6.8,"s":-1.0,"u":0.9},{"p":10,"e":6.9,"s":-0.3,"u":0.9},
{"p":10,"e":7.0,"s":0.5,"u":0.9},{"p":10,"e":7.1,"s":-1.5,"u":0.9},{"p":10,"e":7.2,"s":-1.0,"u":0.9},{"p":10,"e":7.3,"s":-2.0,"u":0.9},{"p":10,"e":7.4,"s":-0.8,"u":0.9},{"p":10,"e":7.5,"s":-2.3,"u":0.9},{"p":10,"e":7.6,"s":-1.0,"u":0.9},{"p":10,"e":7.7,"s":0.0,"u":0.9},{"p":10,"e":7.8,"s":-0.5,"u":0.9},{"p":10,"e":7.9,"s":-1.3,"u":0.9},{"p":10,"e":8.0,"s":-0.8,"u":0.9}
]},
"facet": {"field": "p", "type": "ordinal", "sort": "ascending",
  "header": {"title": null, "labelExpr": "'Phase Bin ' + datum.value", "labelFontSize": 10, "labelFont": "DejaVu Sans", "labelFontWeight": "normal", "labelColor": "black", "labelPadding": 3}},
"columns": 5,
"spacing": {"row": 45, "column": 42},
"bounds": "flush",
"resolve": {"axis": {"x": "independent", "y": "independent"}},
"spec": {
  "width": 114, "height": 120,
  "encoding": {
    "x": {"field": "e", "type": "quantitative", "scale": {"domain": [0.67, 8.43], "nice": false, "zero": false},
          "axis": {"values": [2, 4, 6, 8], "title": "Energy (keV)", "domainColor": "black", "tickColor": "black", "tickSize": 3, "labelFontSize": 8, "labelColor": "black", "labelPadding": 2, "titleFontSize": 8, "titleFontWeight": "normal", "titleColor": "black", "titlePadding": 3}},
    "y": {"field": "s", "type": "quantitative", "scale": {"domain": [-10, 10], "nice": false},
          "axis": {"values": [-10, -5, 0, 5, 10], "title": "Sigma", "domainColor": "black", "tickColor": "black", "tickSize": 3, "labelFontSize": 8, "labelColor": "black", "labelPadding": 2, "titleFontSize": 8, "titleFontWeight": "normal", "titleColor": "black", "titlePadding": 4}}
  },
  "layer": [
    {"mark": {"type": "errorbar", "color": "#1f77b4", "thickness": 1.6},
     "encoding": {"yError": {"field": "u"}}},
    {"mark": {"type": "tick", "orient": "horizontal", "color": "#1f77b4", "size": 4, "thickness": 1.4, "opacity": 1}},
    {"mark": {"type": "point", "filled": true, "shape": "square", "size": 7, "color": "#1f77b4", "opacity": 1}},
    {"mark": {"type": "rule", "color": "black", "strokeWidth": 1, "yOffset": 0.5}, "encoding": {"x": null, "y": {"datum": 0, "type": "quantitative"}}}
  ]
}
}
